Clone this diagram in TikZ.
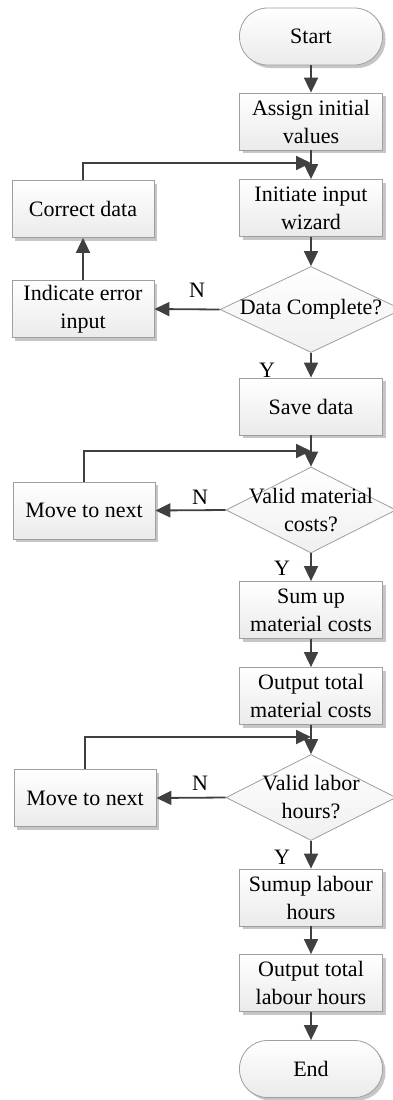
\documentclass[tikz,border=0pt]{standalone}
\usepackage{fontspec}
\setmainfont{Liberation Serif}
\usetikzlibrary{shapes.geometric,shadows,arrows.meta}

\tikzset{
  box/.style={rectangle, draw=gray!75, line width=0.8pt,
    top color=white, bottom color=gray!16,
    drop shadow={shadow xshift=3pt, shadow yshift=-3pt, fill=gray!45, opacity=1},
    minimum width=143pt, minimum height=57pt, align=center, inner sep=2pt},
  term/.style={box, rounded corners=28pt},
  decide/.style={diamond, draw=gray!75, line width=0.8pt,
    top color=white, bottom color=gray!12,
    minimum width=170pt, minimum height=86pt, inner sep=0pt},
  arr/.style={draw=black!75, line width=1.8pt, -{Triangle[length=15pt,width=14pt]}},
}

\begin{document}
\begin{tikzpicture}[x=1pt, y=-1pt, font=\fontsize{22}{28}\selectfont]
    \useasboundingbox (0,0) rectangle (393,1100);

    % Main column
    \node[term] (start) at (311,36.5) {Start};
    \node[box] (assign) at (311,121.5) {Assign initial\\values};
    \node[box] (wizard) at (311,208) {Initiate input\\wizard};
    \node[decide, minimum width=182pt,
      label={[align=center]center:Data Complete?}] (complete) at (311,309.5) {};
    \node[box] (save) at (311,406.5) {Save data};
    \node[decide,
      label={[align=center]center:{Valid material\\costs?}}] (validmat) at (311,510) {};
    \node[box] (summat) at (311,610) {Sum up\\material costs};
    \node[box] (outmat) at (311,696) {Output total\\material costs};
    \node[decide,
      label={[align=center]center:{Valid labor\\hours?}}] (validlab) at (311,797.5) {};
    \node[box] (sumlab) at (311,897.5) {Sumup labour\\hours};
    \node[box] (outlab) at (311,983) {Output total\\labour hours};
    \node[term] (end) at (311,1069) {End};

    % Side column
    \node[box, minimum width=142pt] (correct) at (83,209) {Correct data};
    \node[box, minimum width=142pt] (error) at (83,309) {Indicate error\\input};
    \node[box, minimum width=142pt] (movemat) at (84,510.5) {Move to next};
    \node[box, minimum width=142pt] (movelab) at (85,798) {Move to next};

    % Loop joints on the main line
    \coordinate (joinA) at (311,163);
    \coordinate (joinB) at (311,451);
    \coordinate (joinC) at (311,737);

    % Main flow
    \foreach \a/\b in {start/assign, assign/wizard, wizard/complete,
        complete/save, save/validmat, validmat/summat, summat/outmat,
        outmat/validlab, validlab/sumlab, sumlab/outlab, outlab/end}
        \draw[arr] (\a) -- (\b);

    % Branches and loops back
    \draw[arr] (complete.west) -- (error.east);
    \draw[arr] (error) -- (correct);
    \draw[arr] (correct.north) |- (joinA);
    \draw[arr] (validmat.west) -- (movemat.east);
    \draw[arr] (movemat.north) |- (joinB);
    \draw[arr] (validlab.west) -- (movelab.east);
    \draw[arr] (movelab.north) |- (joinC);

    % Branch labels
    \node (nA) at (197,290) {N};
    \node (yA) at (267,370) {Y};
    \node (nB) at (200,497) {N};
    \node (yB) at (282,568) {Y};
    \node (nC) at (200,783) {N};
    \node (yC) at (282,857) {Y};
\end{tikzpicture}
\end{document}
